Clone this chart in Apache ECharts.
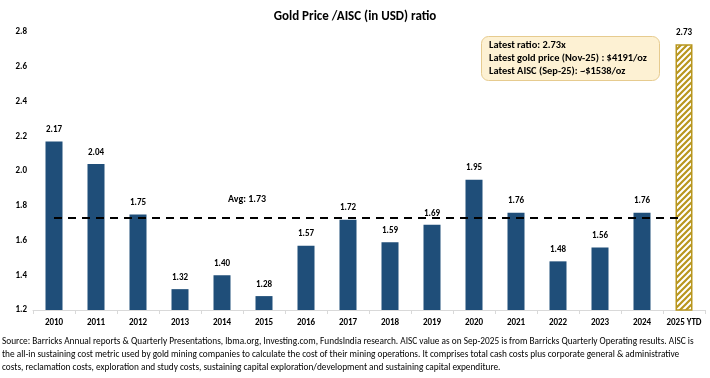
<!DOCTYPE html>
<html><head><meta charset="utf-8">
<script src="https://cdn.jsdelivr.net/npm/echarts@6/dist/echarts.min.js"></script>
<style>html,body{margin:0;padding:0;background:#fff}#c{width:710px;height:378px}</style>
</head><body><div id="c"></div>
<script>
const categories = ['2010','2011','2012','2013','2014','2015','2016','2017','2018','2019','2020','2021','2022','2023','2024','2025 YTD'];
const ratios = [2.17,2.04,1.75,1.32,1.40,1.28,1.57,1.72,1.59,1.69,1.95,1.76,1.48,1.56,1.76,2.73];
const avgValue = 1.73;
const yTicks = [1.2,1.4,1.6,1.8,2.0,2.2,2.4,2.6,2.8];
const titleText = 'Gold Price /AISC (in USD) ratio';
const noteLines = ['Latest ratio: 2.73x','Latest gold price (Nov-25) : $4191/oz','Latest AISC (Sep-25): ~$1538/oz'];
const sourceLines = [
 'Source: Barricks Annual reports & Quarterly Presentations, lbma.org, Investing.com, FundsIndia research. AISC value as on Sep-2025 is from Barricks Quarterly Operating results. AISC is',
 'the all-in sustaining cost metric used by gold mining companies to calculate the cost of their mining operations. It comprises total cash costs plus corporate general & administrative',
 'costs, reclamation costs, exploration and study costs, sustaining capital exploration/development and sustaining capital expenditure.'
];

const FONT = "'Liberation Sans Narrow','Carlito','Noto Sans',sans-serif";
const blue = '#1F4E79';
const gold = '#B8961E';

// hatch pattern
const pc = document.createElement('canvas');
pc.width = 6; pc.height = 6;
const px = pc.getContext('2d');
px.fillStyle = '#fff'; px.fillRect(0,0,6,6);
px.strokeStyle = gold; px.lineWidth = 2.2;
px.beginPath();
px.moveTo(-1,7); px.lineTo(7,-1);
px.moveTo(-1,1); px.lineTo(1,-1);
px.moveTo(5,7); px.lineTo(7,5);
px.stroke();

const barData = ratios.map((v,i) => {
  if (categories[i] === '2025 YTD') {
    return {value: v, itemStyle: {color: {image: pc, repeat: 'repeat'}, borderColor: gold, borderWidth: 1.5}};
  }
  return {value: v};
});

const chart = echarts.init(document.getElementById('c'), null, {renderer:'canvas'});
chart.setOption({
  animation: false,
  textStyle: {fontFamily: FONT},
  title: {text: titleText, left: 'center', top: 5,
    textStyle: {fontFamily: FONT, fontSize: 13, fontWeight: 'bold', color: '#000'}},
  grid: {left: 33, right: 5, top: 32, bottom: 68, containLabel: false},
  xAxis: {type: 'category', data: categories,
    axisLine: {lineStyle: {color: '#D9D9D9'}},
    axisTick: {show: true, alignWithLabel: false, length: 4, lineStyle: {color: '#D9D9D9'}},
    axisLabel: {color: '#000', fontWeight: 'bold', fontSize: 9, fontFamily: FONT, margin: 8, interval: 0}},
  yAxis: {type: 'value', min: 1.2, max: 2.8, interval: 0.2,
    axisLine: {show: false}, axisTick: {show: false}, splitLine: {show: false},
    axisLabel: {color: '#000', fontWeight: 'bold', fontSize: 9, fontFamily: FONT, margin: 6,
      formatter: v => v.toFixed(1)}},
  series: [{
    type: 'bar', data: barData, barWidth: 17,
    itemStyle: {color: blue},
    label: {show: true, position: 'top', distance: 7, color: '#000', fontWeight: 'bold', fontSize: 9, fontFamily: FONT,
      formatter: p => p.value.toFixed(2)},
    markLine: {symbol: 'none', silent: true,
      lineStyle: {color: '#000', type: [8,6], width: 2},
      label: {show: false},
      data: [[{coord: [categories[0], avgValue]}, {coord: [categories[categories.length-1], avgValue]}]]},
    markPoint: {symbol: 'circle', symbolSize: 0,
      label: {show: true, formatter: 'Avg: ' + avgValue.toFixed(2), color: '#000', fontWeight: 'bold', fontSize: 10, fontFamily: FONT, offset: [25, -18]},
      data: [{coord: ['2014', avgValue]}]}
  }],
  graphic: [
    {type: 'rect', left: 481, top: 36, shape: {width: 178, height: 44, r: 7},
      style: {fill: '#FDF1D3', stroke: '#E6CB8F', lineWidth: 1}},
    {type: 'text', left: 489, top: 39,
      style: {text: noteLines.join('\n'), font: "bold 10.4px " + FONT, fill: '#000', lineHeight: 13}},
    {type: 'text', left: 2, top: 335,
      style: {text: sourceLines.join('\n'), font: "9.3px " + FONT, fill: '#000', lineHeight: 13}}
  ]
});
</script></body></html>
